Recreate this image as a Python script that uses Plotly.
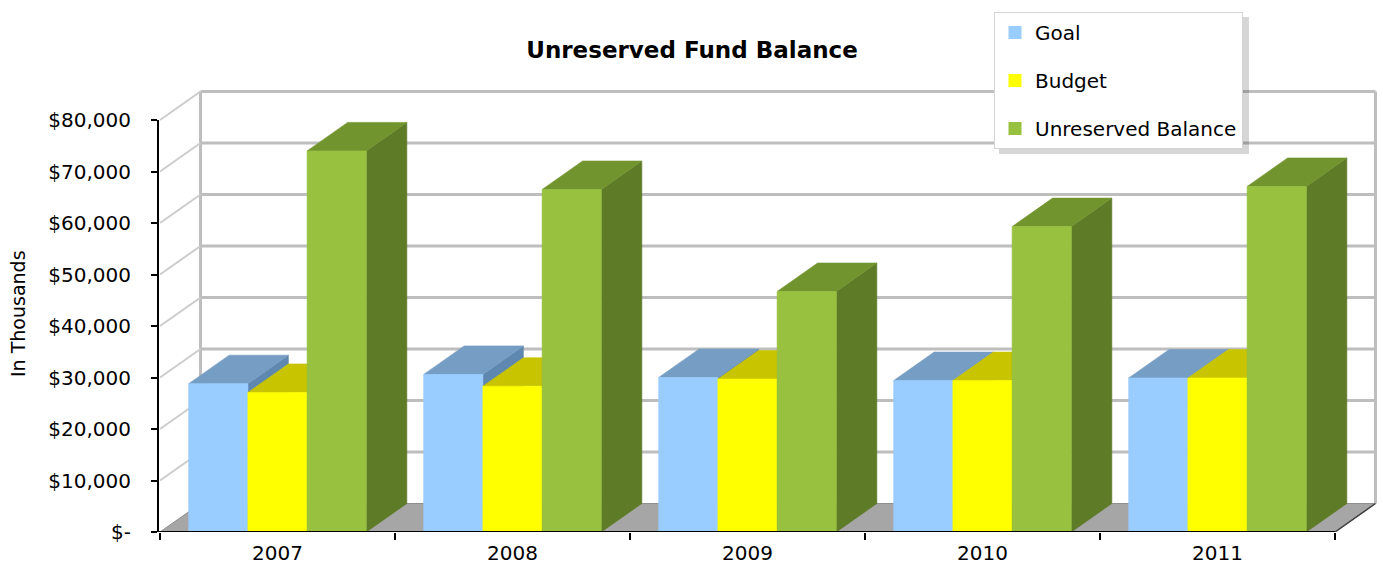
import plotly.graph_objects as go

# ---------------- data ----------------
years = ["2007", "2008", "2009", "2010", "2011"]
goal = [28800, 30600, 30000, 29400, 29900]
budget = [27100, 28300, 29700, 29400, 29900]
unreserved = [74000, 66500, 46700, 59300, 67100]
series_names = ["Goal", "Budget", "Unreserved Balance"]
y_ticks = [0, 10000, 20000, 30000, 40000, 50000, 60000, 70000, 80000]
y_tick_labels = ["$-", "$10,000", "$20,000", "$30,000", "$40,000",
                 "$50,000", "$60,000", "$70,000", "$80,000"]

# ---------------- styling / geometry ----------------
W, H = 1383, 573
L, R, T, B = 158, 3, 88, 41
PW, PH = W - L - R, H - T - B
PX_CAT = 235.0            # px per category
PX_VAL = 5.15 / 1000.0    # px per value unit
DX = 40.5 / PX_CAT        # depth offset in x units
DY = 28.5 / PX_VAL        # depth offset in y units
BAR_W = 0.252
x_lo = -0.5 - (160 - L) / PX_CAT
x_hi = x_lo + PW / PX_CAT
y_hi = PH / PX_VAL

front_cols = ["#99CCFF", "#FFFF00", "#97C13F"]
top_cols = ["#769DC4", "#C8C400", "#72942F"]
side_cols = ["#5F88B0", "#A9A500", "#5E7B28"]
FONT = "DejaVu Sans"

series_vals = [goal, budget, unreserved]
n_cat = len(years)
n_ser = len(series_vals)


def px_x(px):
    return (px - L) / PW


def px_y(py):
    return (H - B - py) / PH


fig = go.Figure()


def poly(xs, ys, color):
    fig.add_trace(go.Scatter(
        x=xs + [xs[0]], y=ys + [ys[0]], mode="lines", fill="toself",
        fillcolor=color, line=dict(color=color, width=0.6),
        hoverinfo="skip", showlegend=False))


for i in range(n_cat):
    for k in range(n_ser):
        v = series_vals[k][i]
        x0 = i - n_ser * BAR_W / 2 + k * BAR_W
        x1 = x0 + BAR_W
        # side face
        poly([x1, x1 + DX, x1 + DX, x1], [0, DY, v + DY, v], side_cols[k])
        # top face
        poly([x0, x1, x1 + DX, x0 + DX], [v, v, v + DY, v + DY], top_cols[k])
        # front face
        poly([x0, x1, x1, x0], [0, 0, v, v], front_cols[k])

# legend entries
for k in range(n_ser):
    fig.add_trace(go.Scatter(
        x=[None], y=[None], mode="markers", name=series_names[k],
        legendgroup=series_names[k],
        marker=dict(symbol="square", size=13, color=front_cols[k])))

shapes = []
# floor
xb0, xb1 = -0.5 + DX, n_cat - 0.5 + DX
shapes.append(dict(type="path", layer="below",
                   path=f"M {-0.5},0 L {n_cat-0.5},0 L {xb1},{DY} L {xb0},{DY} Z",
                   fillcolor="#A6A6A6", line=dict(color="#8F8F8F", width=1)))
# back wall gridlines
for v in y_ticks[1:]:
    shapes.append(dict(type="line", layer="below", x0=xb0, x1=xb1, y0=v + DY, y1=v + DY,
                       line=dict(color="#BEBEBE", width=3)))
# back wall verticals
for xv in (xb0, xb1):
    shapes.append(dict(type="line", layer="below", x0=xv, x1=xv, y0=DY, y1=y_ticks[-1] + DY,
                       line=dict(color="#BEBEBE", width=3)))
# left side wall lines
for v in y_ticks[1:]:
    shapes.append(dict(type="line", layer="below", x0=-0.5, x1=xb0, y0=v, y1=v + DY,
                       line=dict(color="#CCCCCC", width=2)))
# floor right edge
shapes.append(dict(type="line", layer="above", x0=n_cat - 0.5, x1=xb1, y0=0, y1=DY,
                   line=dict(color="#404040", width=1.5)))
# front axes
shapes.append(dict(type="line", layer="above", xref="paper", x0=0, x1=0, y0=0, y1=y_ticks[-1],
                   line=dict(color="black", width=2)))
shapes.append(dict(type="line", layer="above", x0=x_lo, x1=n_cat - 0.5, y0=0, y1=0,
                   line=dict(color="black", width=2)))
# legend drop shadow
shapes.append(dict(type="rect", layer="above", xref="paper", yref="paper",
                   x0=px_x(999), x1=px_x(1249), y0=px_y(154), y1=px_y(17),
                   fillcolor="rgba(0,0,0,0.16)", line=dict(width=0)))

fig.update_layout(
    width=W, height=H,
    margin=dict(l=L, r=R, t=T, b=B, autoexpand=False),
    paper_bgcolor="white", plot_bgcolor="white",
    shapes=shapes,
    title=dict(text="Unreserved Fund Balance", x=692 / W, xanchor="center",
               y=1 - 50 / H, yanchor="middle",
               font=dict(family=FONT, size=23, color="black", weight="bold")),
    xaxis=dict(range=[x_lo, x_hi], tickmode="array", tickvals=list(range(n_cat)),
               ticktext=years, ticks="", showgrid=False, zeroline=False, showline=False,
               tickfont=dict(family=FONT, size=20, color="black"),
               ticklabelstandoff=7,
               minor=dict(tickmode="array", tickvals=[i - 0.5 for i in range(n_cat + 1)],
                          ticks="outside", ticklen=7, tickwidth=1.5, tickcolor="black",
                          showgrid=False),
               fixedrange=True),
    yaxis=dict(range=[0, y_hi], tickmode="array", tickvals=y_ticks, ticktext=y_tick_labels,
               ticks="outside", ticklen=6, tickwidth=1.5, tickcolor="black",
               showgrid=False, zeroline=False, showline=False,
               tickfont=dict(family=FONT, size=20, color="black"),
               ticklabelstandoff=16, fixedrange=True),
    legend=dict(x=px_x(994), y=px_y(12),
                xanchor="left", yanchor="top", bgcolor="white",
                bordercolor="#D4D4D4", borderwidth=1,
                font=dict(family=FONT, size=20, color="black"),
                traceorder="grouped", tracegroupgap=19),
    annotations=[dict(text="In Thousands", xref="paper", yref="paper",
                      x=px_x(18), y=px_y(314),
                      xanchor="center", yanchor="middle", textangle=-90, showarrow=False,
                      font=dict(family=FONT, size=19, color="black"))],
)

fig.write_html("out.html", config={"displayModeBar": False},
               post_script="document.body.style.margin='0px';")
